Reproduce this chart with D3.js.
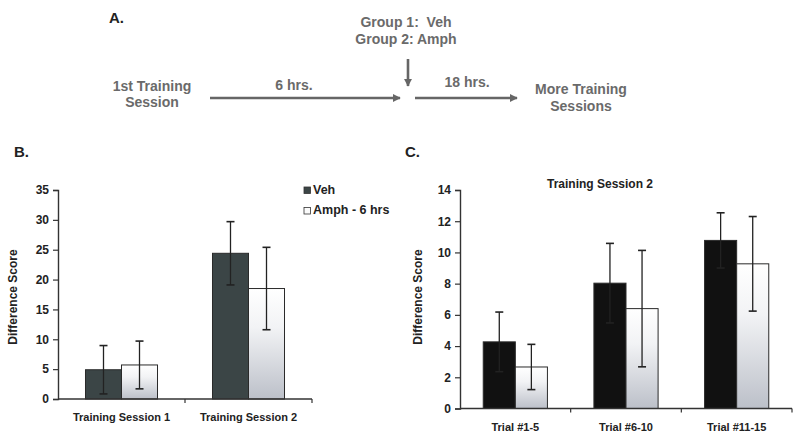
<!DOCTYPE html>
<html>
<head>
<meta charset="utf-8">
<script src="https://cdn.jsdelivr.net/npm/d3@7"></script>
<style>
  html, body { margin: 0; padding: 0; background: #fff; }
  svg { display: block; font-family: "Liberation Sans", Arial, sans-serif; }
</style>
</head>
<body>
<svg id="chart" width="800" height="439"></svg>
<script>
// ---------- Data ----------
const seriesNames = ["Veh", "Amph - 6 hrs"];
const sessionCats = ["Training Session 1", "Training Session 2"];
const vehB = [4.9, 24.4];
const vehBErr = [4.05, 5.3];
const amphB = [5.7, 18.5];
const amphBErr = [4.0, 6.9];
const yTicksB = [0, 5, 10, 15, 20, 25, 30, 35];

const trialCats = ["Trial #1-5", "Trial #6-10", "Trial #11-15"];
const vehC = [4.27, 8.03, 10.77];
const vehCErr = [1.91, 2.55, 1.77];
const amphC = [2.66, 6.4, 9.27];
const amphCErr = [1.45, 3.73, 3.03];
const yTicksC = [0, 2, 4, 6, 8, 10, 12, 14];

const timelineLabels = {
  panel: "A.",
  groups: ["Group 1:  Veh", "Group 2: Amph"],
  first: ["1st Training", "Session"],
  gap1: "6 hrs.",
  gap2: "18 hrs.",
  more: ["More Training", "Sessions"]
};

// ---------- Setup ----------
const svg = d3.select("#chart");
const defs = svg.append("defs");
const grad = defs.append("linearGradient")
  .attr("id", "amphGrad").attr("x1", 0).attr("y1", 0).attr("x2", 0).attr("y2", 1);
grad.append("stop").attr("offset", "0%").attr("stop-color", "#ffffff");
grad.append("stop").attr("offset", "35%").attr("stop-color", "#f2f3f5");
grad.append("stop").attr("offset", "100%").attr("stop-color", "#bcc0c9");

const mk = defs.append("marker")
  .attr("id", "arrowHead").attr("viewBox", "0 0 10 10")
  .attr("refX", 9).attr("refY", 5)
  .attr("markerWidth", 3.2).attr("markerHeight", 3.2)
  .attr("markerUnits", "strokeWidth")
  .attr("orient", "auto");
mk.append("path").attr("d", "M0,0 L10,5 L0,10 z").attr("fill", "#666");

const grayText = "#6a6a6a";

// ---------- Panel A: timeline ----------
const A = svg.append("g");
A.append("text").attr("x", 109).attr("y", 23).attr("font-size", 15).attr("font-weight", "bold")
  .attr("fill", "#222").text(timelineLabels.panel);

const tA = (x, y, s) => A.append("text").attr("x", x).attr("y", y).attr("text-anchor", "middle")
  .attr("font-size", 14).attr("font-weight", "bold").attr("fill", grayText)
  .style("white-space", "pre").text(s);

tA(406, 27, timelineLabels.groups[0]);
tA(406, 44, timelineLabels.groups[1]);
tA(152, 91, timelineLabels.first[0]);
tA(152, 107, timelineLabels.first[1]);
tA(294, 90, timelineLabels.gap1);
tA(467, 87, timelineLabels.gap2);
tA(581, 94, timelineLabels.more[0]);
tA(581, 111, timelineLabels.more[1]);

const arrow = (x1, y1, x2, y2) => A.append("line")
  .attr("x1", x1).attr("y1", y1).attr("x2", x2).attr("y2", y2)
  .attr("stroke", "#666").attr("stroke-width", 2.6).attr("marker-end", "url(#arrowHead)");
arrow(210, 98, 400, 98);
arrow(415, 98, 517, 98);
arrow(408, 59, 408, 86);

// ---------- Generic bar panel ----------
function barPanel(opts) {
  const g = svg.append("g");
  const { x0, x1, yTop, yBot, cats, ticks, ymax, veh, vehErr, amph, amphErr, vehColor, pad } = opts;
  const y = d3.scaleLinear().domain([0, ymax]).range([yBot, yTop]);
  const xb = d3.scaleBand().domain(cats).range([x0, x1]).paddingInner(pad).paddingOuter(pad / 2);
  const xs = d3.scaleBand().domain(seriesNames).range([0, xb.bandwidth()]);

  // y axis
  const yAxis = d3.axisLeft(y).tickValues(ticks).tickSize(5).tickPadding(4);
  const ya = g.append("g").attr("transform", `translate(${x0},0)`).call(yAxis);
  ya.select(".domain").attr("stroke", "#333").attr("stroke-width", 1.4);
  ya.selectAll(".tick line").attr("stroke", "#333").attr("stroke-width", 1.2);
  ya.selectAll(".tick text").attr("font-size", 12).attr("font-weight", "bold").attr("fill", "#222")
    .attr("font-family", "Liberation Sans, Arial, sans-serif");

  // bars
  const data = [];
  cats.forEach((c, i) => {
    data.push({ c, s: seriesNames[0], v: veh[i], e: vehErr[i] });
    data.push({ c, s: seriesNames[1], v: amph[i], e: amphErr[i] });
  });
  g.selectAll("rect.bar").data(data).enter().append("rect")
    .attr("x", d => xb(d.c) + xs(d.s))
    .attr("y", d => y(d.v))
    .attr("width", xs.bandwidth())
    .attr("height", d => y(0) - y(d.v))
    .attr("fill", d => d.s === seriesNames[0] ? vehColor : "url(#amphGrad)")
    .attr("stroke", "#2a2a2a").attr("stroke-width", 1);

  // error bars
  const cw = 4;
  data.forEach(d => {
    const cx = xb(d.c) + xs(d.s) + xs.bandwidth() / 2;
    const hi = y(d.v + d.e), lo = y(Math.max(0, d.v - d.e));
    const col = "#222";
    g.append("line").attr("x1", cx).attr("x2", cx).attr("y1", hi).attr("y2", lo)
      .attr("stroke", col).attr("stroke-width", 1.3);
    g.append("line").attr("x1", cx - cw).attr("x2", cx + cw).attr("y1", hi).attr("y2", hi)
      .attr("stroke", col).attr("stroke-width", 1.6);
    g.append("line").attr("x1", cx - cw).attr("x2", cx + cw).attr("y1", lo).attr("y2", lo)
      .attr("stroke", col).attr("stroke-width", 1.6);
  });

  // x axis
  g.append("line").attr("x1", x0).attr("x2", x1).attr("y1", y(0)).attr("y2", y(0))
    .attr("stroke", "#333").attr("stroke-width", 1.4);
  cats.forEach((c, i) => {
    const bx = xb(c) + xb.bandwidth() / 2 + xb.step() / 2;
    g.append("line").attr("x1", bx).attr("x2", bx).attr("y1", y(0)).attr("y2", y(0) + 4)
      .attr("stroke", "#333").attr("stroke-width", 1.2);
    g.append("text").attr("x", xb(c) + xb.bandwidth() / 2).attr("y", y(0) + 22)
      .attr("text-anchor", "middle").attr("font-size", 11).attr("font-weight", "bold")
      .attr("fill", "#222").text(c);
  });
  return { g, y, xb };
}

// ---------- Panel B ----------
const B = barPanel({
  x0: 58, x1: 312, yTop: 190, yBot: 399, cats: sessionCats, ticks: yTicksB, ymax: 35,
  veh: vehB, vehErr: vehBErr, amph: amphB, amphErr: amphBErr, vehColor: "#3b4546", pad: 0.433
});
svg.append("text").attr("x", 14).attr("y", 157).attr("font-size", 15).attr("font-weight", "bold")
  .attr("fill", "#222").text("B.");
svg.append("text").attr("transform", "translate(17,297) rotate(-90)").attr("text-anchor", "middle")
  .attr("font-size", 12).attr("font-weight", "bold").attr("fill", "#222").text("Difference Score");

// legend
const leg = svg.append("g");
seriesNames.forEach((s, i) => {
  const ly = 187 + i * 20.5;
  leg.append("rect").attr("x", 304).attr("y", ly).attr("width", 6.5).attr("height", 6.5)
    .attr("fill", i === 0 ? "#3b4546" : "#fbfbfb").attr("stroke", "#333").attr("stroke-width", 0.8);
  leg.append("text").attr("x", 313).attr("y", ly + 6.8).attr("font-size", 12.5).attr("font-weight", "bold")
    .attr("fill", "#222").text(s);
});

// ---------- Panel C ----------
const C = barPanel({
  x0: 460, x1: 792, yTop: 190, yBot: 408.5, cats: trialCats, ticks: yTicksC, ymax: 14,
  veh: vehC, vehErr: vehCErr, amph: amphC, amphErr: amphCErr, vehColor: "#111111", pad: 0.42
});
svg.append("text").attr("x", 405).attr("y", 157).attr("font-size", 15).attr("font-weight", "bold")
  .attr("fill", "#222").text("C.");
svg.append("text").attr("transform", "translate(422,297) rotate(-90)").attr("text-anchor", "middle")
  .attr("font-size", 12).attr("font-weight", "bold").attr("fill", "#222").text("Difference Score");
svg.append("text").attr("x", 600).attr("y", 188).attr("text-anchor", "middle")
  .attr("font-size", 12).attr("font-weight", "bold").attr("fill", "#222").text("Training Session 2");
</script>
</body>
</html>
